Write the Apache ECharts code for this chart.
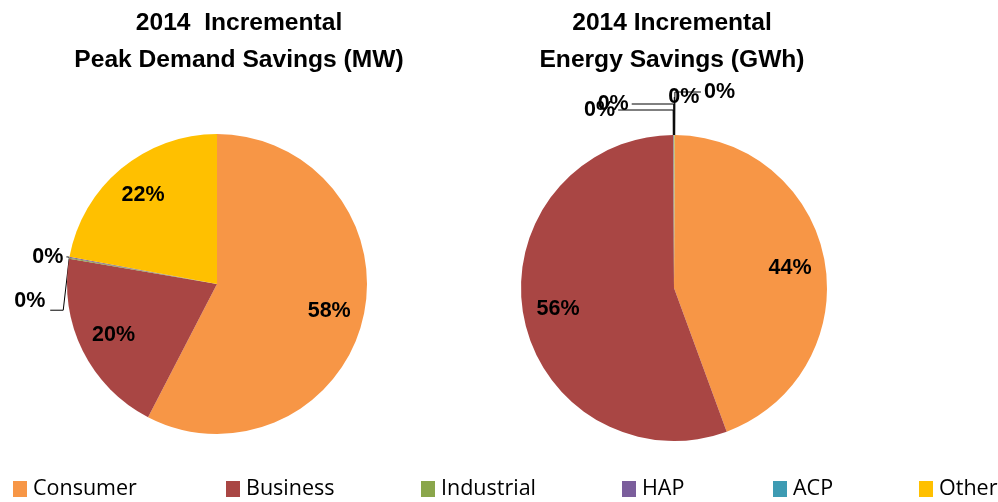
<!DOCTYPE html>
<html>
<head>
<meta charset="utf-8">
<script src="https://cdn.jsdelivr.net/npm/echarts@6/dist/echarts.min.js"></script>
<style>
html,body{margin:0;padding:0;background:#fff;}
#c{width:998px;height:502px;}
</style>
</head>
<body>
<div id="c"></div>
<script>
// ---- data ----
const categories = ['Consumer', 'Business', 'Industrial', 'HAP', 'ACP', 'Other'];
const peakDemandValues = [57.6, 20.1, 0.1, 0.1, 0, 22.1];      // MW share (%)
const energyValues = [44.3, 55.5, 0.05, 0.05, 0.05, 0.05];      // GWh share (%)
const peakTitle = '2014  Incremental\nPeak Demand Savings (MW)';
const energyTitle = '2014 Incremental\nEnergy Savings (GWh)';

// ---- styles ----
const colors = ['#F79646', '#A94644', '#8AA64B', '#7B5E9C', '#3E9BB3', '#FFC000'];
const legendLeft = [8, 221, 416, 617, 768, 914];
const labelFont = {fontFamily: 'Liberation Sans, Arial, sans-serif', fontWeight: 'bold', fontSize: 21.5, color: '#000'};
// leader-line lengths [length, length2] for the small slices
const peakLines = {2: [2, 1], 3: [2, 1]};
const energyLines = {2: [25, 55], 3: [31, 42], 4: [38, 0], 5: [43, 26]};

function fmt(p) { return Math.round(p.percent) + '%'; }

function visiblePie(values, center, radius, startAngle, lines, layoutFn) {
  return {
    type: 'pie', center: center, radius: radius, startAngle: startAngle,
    clockwise: true, minAngle: 0, minShowLabelAngle: 0, avoidLabelOverlap: false, percentPrecision: 4,
    animation: false, silent: true,
    itemStyle: {borderWidth: 0},
    label: Object.assign({show: true, position: 'outside', formatter: fmt, distanceToLabelLine: 3}, labelFont),
    labelLine: {show: true, length: 10, length2: 10, smooth: false, lineStyle: {color: '#000', width: 1}},
    labelLayout: layoutFn,
    data: values.map((v, i) => {
      const small = v > 0 && v < 1;
      const ln = lines[i] || [10, 10];
      return {
        name: categories[i], value: v,
        itemStyle: {color: colors[i]},
        label: {show: small},
        labelLine: {show: small, length: ln[0], length2: ln[1], lineStyle: {color: '#000', width: 1}}
      };
    })
  };
}

function labelPie(values, center, radius, startAngle) {
  return {
    type: 'pie', center: center, radius: [radius * 0.5, radius], startAngle: startAngle,
    clockwise: true, minAngle: 0, percentPrecision: 4,
    animation: false, silent: true, legendHoverLink: false,
    emphasis: {disabled: true},
    label: Object.assign({show: true, position: 'inside', formatter: fmt}, labelFont),
    labelLine: {show: false},
    data: values.map((v, i) => ({
      name: categories[i], value: v,
      itemStyle: {color: 'rgba(0,0,0,0)', borderWidth: 0},
      label: {show: v >= 1}
    }))
  };
}

// move the Industrial label of the peak pie below, with a bent leader line
function peakLayout(params) {
  if (params.dataIndex === 2 && params.labelLinePoints) {
    const p = params.labelLinePoints[0];
    return {hideOverlap: false, dx: -18, dy: 43, labelLinePoints: [p, [p[0] - 6, p[1] + 52], [p[0] - 19, p[1] + 52]]};
  }
  return {hideOverlap: false};
}
function energyLayout(params) {
  if (params.dataIndex === 4) return {hideOverlap: false, moveOverlap: null, dx: -9};
  return {hideOverlap: false, moveOverlap: null};
}

const legends = categories.map((name, i) => ({
  data: [name], left: legendLeft[i], top: 473,
  itemWidth: 14, itemHeight: 16, itemGap: 0, icon: 'rect',
  textStyle: {fontFamily: 'Open Sans, sans-serif', fontSize: 21.5, color: '#000', padding: [0, 0, 0, 1]},
  selectedMode: false
}));

const titleStyle = {fontFamily: 'Liberation Sans, Arial, sans-serif', fontWeight: 'bold', fontSize: 24.6, lineHeight: 37, color: '#000'};

const chart = echarts.init(document.getElementById('c'), null, {renderer: 'canvas'});
chart.setOption({
  backgroundColor: '#fff',
  color: colors,
  title: [
    {text: peakTitle, left: 234, top: 0, textAlign: 'center', textStyle: titleStyle},
    {text: energyTitle, left: 667, top: 0, textAlign: 'center', textStyle: titleStyle}
  ],
  legend: legends,
  series: [
    visiblePie(peakDemandValues, [217, 284], 150, 90, peakLines, peakLayout),
    labelPie(peakDemandValues, [217, 284], 150, 90),
    visiblePie(energyValues, [674, 288], 153, 89.64, energyLines, energyLayout),
    labelPie(energyValues, [674, 288], 153, 89.64)
  ]
});
</script>
</body>
</html>
